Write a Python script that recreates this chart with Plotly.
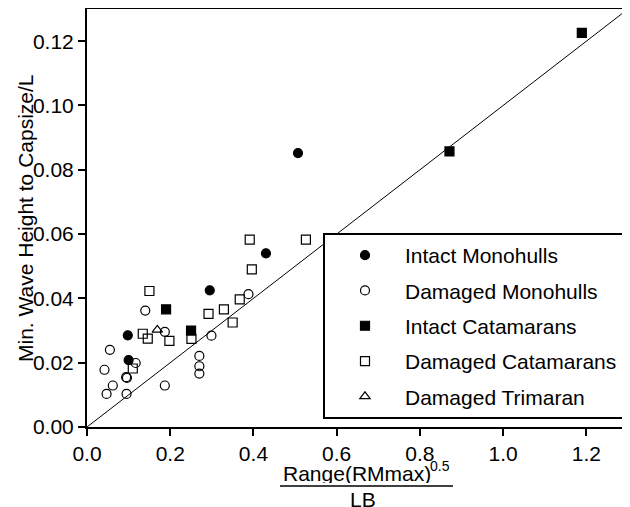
import plotly.graph_objects as go

# ---- data ----
intact_mono_x = [0.098, 0.100, 0.295, 0.430, 0.507]
intact_mono_y = [0.0285, 0.0208, 0.0425, 0.0540, 0.0852]

damaged_mono_x = [0.055, 0.042, 0.047, 0.062, 0.094, 0.096, 0.095, 0.117, 0.140,
                  0.187, 0.187, 0.270, 0.270, 0.270, 0.299, 0.388]
damaged_mono_y = [0.0240, 0.0178, 0.0103, 0.0129, 0.0155, 0.0153, 0.0103, 0.0199, 0.0362,
                  0.0296, 0.0129, 0.0221, 0.0189, 0.0166, 0.0284, 0.0413]

intact_cat_x = [0.190, 0.250, 0.871, 1.189]
intact_cat_y = [0.0366, 0.0300, 0.0857, 0.1226]

damaged_cat_x = [0.150, 0.134, 0.146, 0.198, 0.110, 0.251, 0.292, 0.329, 0.350,
                 0.367, 0.396, 0.391, 0.526]
damaged_cat_y = [0.0423, 0.0290, 0.0275, 0.0268, 0.0182, 0.0274, 0.0352, 0.0366, 0.0325,
                 0.0397, 0.0490, 0.0583, 0.0583]

damaged_tri_x = [0.169]
damaged_tri_y = [0.0302]

line_x = [0.0, 1.3]
line_y = [0.0, 0.13]

x_ticks = [0.0, 0.2, 0.4, 0.6, 0.8, 1.0, 1.2]
y_ticks = [0.00, 0.02, 0.04, 0.06, 0.08, 0.10, 0.12]

FONT = "Liberation Sans, Arial, sans-serif"
FS = 21

fig = go.Figure()

fig.add_trace(go.Scatter(x=line_x, y=line_y, mode="lines",
                         line=dict(color="black", width=1), showlegend=False,
                         hoverinfo="skip"))

series = [
    ("Intact Monohulls", intact_mono_x, intact_mono_y, "circle"),
    ("Damaged Monohulls", damaged_mono_x, damaged_mono_y, "circle-open"),
    ("Intact Catamarans", intact_cat_x, intact_cat_y, "square"),
    ("Damaged Catamarans", damaged_cat_x, damaged_cat_y, "square-open"),
    ("Damaged Trimaran", damaged_tri_x, damaged_tri_y, "triangle-up-open"),
]
for i, (name, xs, ys, sym) in enumerate(series):
    fig.add_trace(go.Scatter(
        x=xs, y=ys, mode="markers", name=name, legendgroup=f"g{i}",
        marker=dict(symbol=sym, size=9, color="black",
                    line=dict(color="black", width=1.2)),
    ))

axis_common = dict(showline=True, linecolor="black", linewidth=2, mirror=True,
                   ticks="outside", ticklen=7, tickwidth=2, tickcolor="black",
                   showgrid=False, zeroline=False, automargin=False,
                   tickfont=dict(family=FONT, size=FS, color="black"))

fig.update_xaxes(range=[0, 1.3], tickvals=x_ticks, tickformat=".1f", **axis_common)
fig.update_yaxes(range=[0, 0.13], tickvals=y_ticks, tickformat=".2f", **axis_common)

# page has an 8px body margin; work in page pixel coordinates below
OFF = 8
PL, PR, PT, PB = 87, 628, 9, 427          # plot area in page pixels
PW, PH = PR - PL, PB - PT
W, H = 630 - OFF, 507 - OFF


def px(x):
    return (x - PL) / PW


def py(y):
    return (PB - y) / PH


def note(text, x, y, size=FS, angle=0, h=None):
    d = dict(text=text, textangle=angle, xref="paper", yref="paper",
             x=px(x), y=py(y), xanchor="center", yanchor="middle",
             showarrow=False, font=dict(family=FONT, size=size, color="black"))
    if h is not None:
        d["height"] = h
    return d


fig.update_layout(
    width=W, height=H,
    margin=dict(l=PL - OFF, r=W - (PR - OFF), t=PT - OFF, b=H - (PB - OFF),
                autoexpand=False),
    paper_bgcolor="white", plot_bgcolor="white",
    font=dict(family=FONT, size=FS, color="black"),
    legend=dict(x=px(323), y=py(233), xanchor="left", yanchor="top",
                bgcolor="white", bordercolor="black", borderwidth=2,
                itemwidth=70, tracegroupgap=5, traceorder="grouped",
                font=dict(family=FONT, size=FS, color="black")),
    annotations=[
        note("Min. Wave Height to Capsize/L", 25, 218, angle=-90),
        note("Range(RMmax)", 357, 472.5, h=20),
        note("0.5", 440, 466, size=14, h=14),
        note("LB", 363, 498.5, h=16),
    ],
    shapes=[
        dict(type="line", xref="paper", yref="paper",
             x0=px(280), x1=px(453), y0=py(486), y1=py(486),
             line=dict(color="black", width=1.5)),
    ],
)

fig.write_html("out.html")
